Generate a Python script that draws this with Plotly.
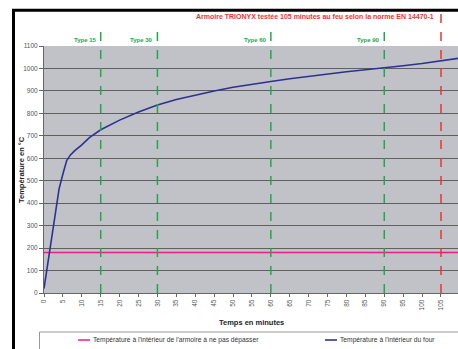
import plotly.graph_objects as go

# Data
time_min = [0, 1, 2, 3, 4, 5, 6, 7, 8, 10, 12, 15, 20, 25, 30, 35, 40, 45, 50,
            55, 60, 65, 70, 75, 80, 85, 90, 95, 100, 105, 110]
furnace_temp = [20, 130, 250, 370, 465, 530, 590, 615, 632, 660, 692, 727, 770,
                806, 837, 862, 882, 900, 916, 930, 942, 954, 965, 975, 985, 994,
                1002, 1012, 1022, 1034, 1046]
limit_time = [0, 110]
limit_temp = [180, 180]

type_times = [15, 30, 60, 90]
type_labels = ["Type 15", "Type 30", "Type 60", "Type 90"]
test_time = 105
title_text = "Armoire TRIONYX testée 105 minutes au feu selon la norme EN 14470-1"
limit_name = "Température à l'intérieur de l'armoire à ne pas dépasser"
furnace_name = "Température à l'intérieur du four"

PINK = "#ee1c8c"
BLUE = "#2e3192"

W, H = 458, 349
L, R, T, B = 44, 0, 46, 56
pw, ph = W - L - R, H - T - B


def px_x(p):
    return (p - L) / pw


def px_y(p):
    return (H - B - p) / ph


FONT = "Liberation Sans, Arial, sans-serif"

fig = go.Figure()
fig.add_trace(go.Scatter(
    x=limit_time, y=limit_temp, mode="lines",
    line=dict(color=PINK, width=1.5), name=limit_name))
fig.add_trace(go.Scatter(
    x=time_min, y=furnace_temp, mode="lines",
    line=dict(color=BLUE, width=1.6), name=furnace_name))

shapes = []
for t in type_times:
    shapes.append(dict(type="line", xref="x", yref="paper", x0=t, x1=t,
                       y0=0, y1=px_y(29), line=dict(color="#22a84a", width=1.5, dash="dash")))
shapes.append(dict(type="line", xref="x", yref="paper", x0=test_time, x1=test_time,
                   y0=0, y1=px_y(9), line=dict(color="#ee3333", width=1.5, dash="dash")))
# outer frame
shapes.append(dict(type="rect", xref="paper", yref="paper",
                   x0=px_x(13.5), x1=px_x(470), y0=px_y(370), y1=px_y(10.3),
                   line=dict(color="black", width=3), layer="below"))
# legend box
shapes.append(dict(type="rect", xref="paper", yref="paper",
                   x0=px_x(39.5), x1=px_x(470), y0=px_y(370), y1=px_y(332),
                   line=dict(color="#999999", width=1), fillcolor="white", layer="below"))
# legend symbols
leg_y = px_y(340)
shapes.append(dict(type="line", xref="paper", yref="paper", x0=px_x(78), x1=px_x(90),
                   y0=leg_y, y1=leg_y, line=dict(color=PINK, width=1.5)))
shapes.append(dict(type="line", xref="paper", yref="paper", x0=px_x(325), x1=px_x(337),
                   y0=leg_y, y1=leg_y, line=dict(color=BLUE, width=1.6)))

annotations = []
for t, lab in zip(type_times, type_labels):
    annotations.append(dict(x=t, y=px_y(40), xref="x", yref="paper", text=f"<b>{lab}</b>",
                            showarrow=False, xanchor="right", yanchor="middle", xshift=-2,
                            font=dict(family=FONT, size=6, color="#22a84a")))
annotations.append(dict(x=test_time, y=px_y(17), xref="x", yref="paper", text=f"<b>{title_text}</b>",
                        showarrow=False, xanchor="right", yanchor="middle", xshift=-5,
                        font=dict(family=FONT, size=7, color="#ee3333")))
annotations.append(dict(x=px_x(251), y=px_y(322), xref="paper", yref="paper",
                        text="<b>Temps en minutes</b>", showarrow=False,
                        xanchor="center", yanchor="middle",
                        font=dict(family=FONT, size=7.5, color="#222222")))
annotations.append(dict(x=px_x(21), y=px_y(170), xref="paper", yref="paper",
                        text="<b>Température en °C</b>", showarrow=False, textangle=-90,
                        xanchor="center", yanchor="middle",
                        font=dict(family=FONT, size=7.5, color="#222222")))
annotations.append(dict(x=px_x(90.5), y=leg_y, xref="paper", yref="paper",
                        text=limit_name, showarrow=False, xanchor="left", yanchor="middle",
                        font=dict(family=FONT, size=6.7, color="#333333")))
annotations.append(dict(x=px_x(337.5), y=leg_y, xref="paper", yref="paper",
                        text=furnace_name, showarrow=False, xanchor="left", yanchor="middle",
                        font=dict(family=FONT, size=6.7, color="#333333")))

fig.update_layout(
    width=W, height=H,
    margin=dict(l=L, r=R, t=T, b=B, pad=0),
    paper_bgcolor="white",
    plot_bgcolor="#c0c2c8",
    shapes=shapes,
    annotations=annotations,
    showlegend=False,
    font=dict(family=FONT),
)
fig.update_xaxes(range=[0, 109.5], tickmode="linear", tick0=0, dtick=5,
                 tickangle=-90, ticks="outside", ticklen=3, tickcolor="#666666",
                 showgrid=False, zeroline=False, showline=True, linecolor="#666666",
                 linewidth=1, automargin=False,
                 tickfont=dict(family=FONT, size=6.5, color="#555555"))
fig.update_yaxes(range=[0, 1100], tickmode="linear", tick0=0, dtick=100,
                 ticks="outside", ticklen=4, tickcolor="#666666",
                 showgrid=True, gridcolor="#606060", gridwidth=1, zeroline=False,
                 showline=True, linecolor="#666666", linewidth=1, automargin=False,
                 tickfont=dict(family=FONT, size=6.5, color="#555555"))

fig.write_html("out.html", config={"displayModeBar": False},
               post_script="document.body.style.margin='0px';document.body.style.overflow='hidden';")
